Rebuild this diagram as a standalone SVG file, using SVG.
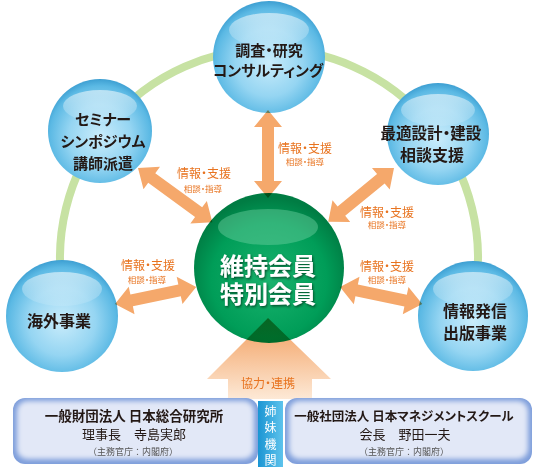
<svg xmlns="http://www.w3.org/2000/svg" width="535" height="467" viewBox="0 0 535 467">
<defs>
<radialGradient id="gBlue" cx="50%" cy="55%" r="55%">
<stop offset="0" stop-color="#c9ecfb"/>
<stop offset="0.55" stop-color="#95d5f2"/>
<stop offset="0.88" stop-color="#5bb9e4"/>
<stop offset="1" stop-color="#3d9fd2"/>
</radialGradient>
<linearGradient id="gHi" x1="0" y1="0" x2="0" y2="1">
<stop offset="0" stop-color="#ffffff" stop-opacity="0.55"/>
<stop offset="1" stop-color="#ffffff" stop-opacity="0.1"/>
</linearGradient>
<radialGradient id="gGreen" cx="50%" cy="58%" r="55%">
<stop offset="0" stop-color="#19b36e"/>
<stop offset="0.7" stop-color="#009d58"/>
<stop offset="1" stop-color="#007c43"/>
</radialGradient>
<linearGradient id="gUp" x1="0" y1="0" x2="0" y2="1">
<stop offset="0" stop-color="#f29d5c"/>
<stop offset="1" stop-color="#fde9d6"/>
</linearGradient>
<linearGradient id="gStrip" x1="0" y1="0" x2="1" y2="0">
<stop offset="0" stop-color="#1b95d3"/>
<stop offset="1" stop-color="#5ec3ec"/>
</linearGradient>
<filter id="fBlur" x="-10%" y="-20%" width="120%" height="140%">
<feGaussianBlur stdDeviation="2.5"/>
</filter>
<filter id="fShadow" x="-20%" y="-20%" width="140%" height="140%">
<feDropShadow dx="1" dy="1.5" stdDeviation="1" flood-color="#00331c" flood-opacity="0.75"/>
</filter>
<style>
text{font-feature-settings:"palt";}
.sph{fill:url(#gBlue);}
.hi{fill:url(#gHi);}
.nt{font-family:"Noto Sans CJK JP","Noto Sans CJK SC",sans-serif;font-weight:bold;fill:#231815;text-anchor:middle;}
.ct{font-family:"Noto Sans CJK JP",sans-serif;font-weight:bold;fill:#ffffff;text-anchor:middle;font-size:24px;}
.arr{fill:#f5a86b;mix-blend-mode:multiply;}
.l1{font-family:"Noto Sans CJK JP",sans-serif;fill:#e8731f;text-anchor:middle;font-size:12px;}
.l2{font-family:"Noto Sans CJK JP",sans-serif;fill:#e8731f;text-anchor:middle;font-size:8.5px;}
.bt{font-family:"Noto Sans CJK JP",sans-serif;fill:#231815;text-anchor:middle;}
.bs{font-family:"Noto Sans CJK JP",sans-serif;fill:#555555;text-anchor:middle;font-size:9px;font-feature-settings:normal;}
.bx{fill:#7e9edb;}
.bi{fill:#e2e8f7;}
</style>
</defs>
<rect width="535" height="467" fill="#ffffff"/>
<path d="M63.2 294.3 A209 209 0 1 1 474.8 294.3" fill="none" stroke="#c7e2a3" stroke-width="8"/>

<g id="node-chosa">
<circle class="sph" cx="269" cy="57" r="56"/>
<ellipse class="hi" cx="269" cy="30" rx="40" ry="17"/>
<text class="nt" x="269" y="56" font-size="15">調査・研究</text>
<text class="nt" x="268" y="76" font-size="15">コンサルティング</text>
</g>
<g id="node-seminar">
<circle class="sph" cx="100" cy="131" r="52"/>
<ellipse class="hi" cx="100" cy="106" rx="37" ry="16"/>
<text class="nt" x="103" y="125" font-size="15">セミナー</text>
<text class="nt" x="103" y="147" font-size="15">シンポジウム</text>
<text class="nt" x="103" y="168.5" font-size="15">講師派遣</text>
</g>
<g id="node-saiteki">
<circle class="sph" cx="438" cy="134" r="51"/>
<ellipse class="hi" cx="438" cy="110" rx="37" ry="16"/>
<text class="nt" x="431" y="138.5" font-size="15.5">最適設計・建設</text>
<text class="nt" x="432" y="160.5" font-size="16">相談支援</text>
</g>
<g id="node-kaigai">
<circle class="sph" cx="62" cy="316" r="56"/>
<ellipse class="hi" cx="62" cy="289" rx="40" ry="17"/>
<text class="nt" x="59" y="326.5" font-size="16">海外事業</text>
</g>
<g id="node-johohasshin">
<circle class="sph" cx="473" cy="316" r="55"/>
<ellipse class="hi" cx="473" cy="289" rx="40" ry="17"/>
<text class="nt" x="475" y="316.5" font-size="16">情報発信</text>
<text class="nt" x="475" y="338.5" font-size="16">出版事業</text>
</g>
<g id="node-center">
<circle cx="269" cy="268" r="75" fill="url(#gGreen)"/>
<ellipse cx="268" cy="227" rx="50" ry="18" fill="#6fd0a2" opacity="0.45"/>
<g filter="url(#fShadow)">
<text class="ct" x="268" y="275">維持会員</text>
<text class="ct" x="268" y="303">特別会員</text>
</g>
</g>

<g id="connectors">
<polygon class="arr" transform="translate(268 110) rotate(90)" points="0,0 17,-14 17,-6 71,-6 71,-14 88,0 71,14 71,6 17,6 17,14"/>
<polygon class="arr" transform="translate(138 168) rotate(36.1)" points="0,0 17,-14 17,-6 75,-6 75,-14 92,0 75,14 75,6 17,6 17,14"/>
<polygon class="arr" transform="translate(394 168) rotate(140.7)" points="0,0 17,-14 17,-6 68,-6 68,-14 85,0 68,14 68,6 17,6 17,14"/>
<polygon class="arr" transform="translate(115 304) rotate(-11.9)" points="0,0 17,-14 17,-6 66,-6 66,-14 83,0 66,14 66,6 17,6 17,14"/>
<polygon class="arr" transform="translate(340 287) rotate(11.7)" points="0,0 17,-14 17,-6 67,-6 67,-14 84,0 67,14 67,6 17,6 17,14"/>
<polygon points="268,318 331,379 312,379 312,399 228,399 228,379 207,379" fill="url(#gUp)" style="mix-blend-mode:multiply"/>
<text class="l1" x="305" y="152.5">情報・支援</text>
<text class="l2" x="305" y="165">相談・指導</text>
<text class="l1" x="204" y="177.5">情報・支援</text>
<text class="l2" x="203" y="192">相談・指導</text>
<text class="l1" x="387" y="216.5">情報・支援</text>
<text class="l2" x="387" y="228">相談・指導</text>
<text class="l1" x="387" y="270.5">情報・支援</text>
<text class="l2" x="387" y="283">相談・指導</text>
<text class="l1" x="148" y="269.5">情報・支援</text>
<text class="l2" x="147" y="283">相談・指導</text>
<text class="l1" x="268" y="388" font-size="11">協力・連携</text>
</g>

<g id="box-left">
<rect class="bx" x="13" y="398" width="245" height="66" rx="12"/>
<rect class="bi" x="17" y="401" width="237" height="58" rx="10" filter="url(#fBlur)"/>
<text class="bt" x="134" y="420.5" font-size="13.5" font-weight="bold">一般財団法人 日本総合研究所</text>
<text class="bt" x="134" y="438.5" font-size="13">理事長　寺島実郎</text>
<text class="bs" x="133" y="454.5">（主務官庁：内閣府）</text>
</g>
<g id="box-strip">
<rect x="258" y="401" width="25" height="66" fill="url(#gStrip)"/>
<text font-family="Noto Sans CJK JP, sans-serif" font-size="12" fill="#ffffff" text-anchor="middle">
<tspan x="270.5" y="415.5">姉</tspan><tspan x="270.5" y="432">妹</tspan><tspan x="270.5" y="448.5">機</tspan><tspan x="270.5" y="465">関</tspan>
</text>
</g>
<g id="box-right">
<rect class="bx" x="285" y="398" width="247" height="66" rx="12"/>
<rect class="bi" x="289" y="401" width="239" height="58" rx="10" filter="url(#fBlur)"/>
<text class="bt" x="404" y="420.5" font-size="12.5" font-weight="bold">一般社団法人 日本マネジメントスクール</text>
<text class="bt" x="405" y="438.5" font-size="13">会長　野田一夫</text>
<text class="bs" x="404" y="454.5">（主務官庁：内閣府）</text>
</g>
</svg>
